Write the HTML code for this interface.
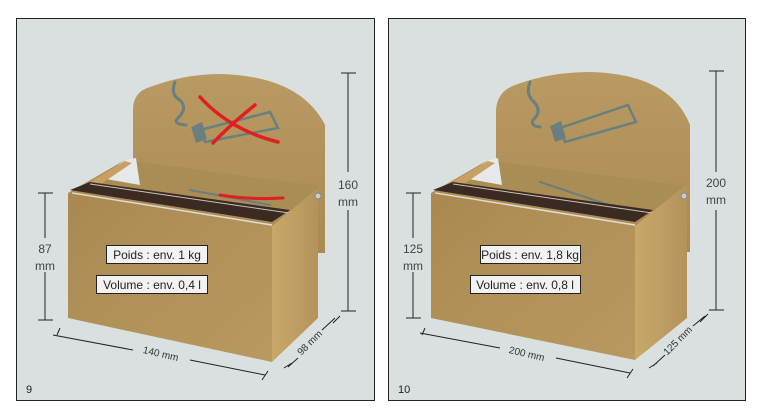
<!DOCTYPE html>
<html><head><meta charset="utf-8"><style>
html,body{margin:0;padding:0;background:#fff;}
svg{display:block;font-family:"Liberation Sans",sans-serif;}
</style></head><body>
<svg width="759" height="409" viewBox="0 0 759 409" xmlns="http://www.w3.org/2000/svg">
<defs>
<linearGradient id="fr" x1="0" y1="0" x2="1" y2="1"><stop offset="0" stop-color="#a9894f"/><stop offset="1" stop-color="#b89a60"/></linearGradient>
<linearGradient id="sd" x1="0" y1="0" x2="1" y2="0"><stop offset="0" stop-color="#c9a96a"/><stop offset="1" stop-color="#b3935a"/></linearGradient>
<linearGradient id="bp" x1="0" y1="0" x2="0" y2="1"><stop offset="0" stop-color="#b89a62"/><stop offset="1" stop-color="#a88a52"/></linearGradient>
</defs>
<rect width="759" height="409" fill="#fff"/>
<rect x="16.5" y="18.5" width="358" height="382" fill="#dadfe0" stroke="#222" stroke-width="1"/>
<rect x="388.5" y="18.5" width="357" height="382" fill="#dadfe0" stroke="#222" stroke-width="1"/>

<!-- LEFT DRAWING -->
<path d="M133,110 Q133,92 150,87 Q185,74 220,74 Q300,76 325,125 L325,253 L316,253 L316,200 L133,200 Z" fill="url(#bp)"/>
<path d="M68,193 L125,160 L318,186 L318,200 L272,226 Z" fill="#aa8c55"/>
<g fill="none" stroke="#6a7f80" stroke-width="3" stroke-linecap="round">
<path d="M175,82 Q170,95 180,100 Q188,108 178,118 Q172,124 186,125"/>
<path d="M200,130 L270,112 L278,128 L205,142 Z" stroke-width="2.5"/>
<path d="M193,128 l8,-4 l4,14 l-8,3z" fill="#6a7f80"/>
<path d="M190,190 L270,205" stroke-width="2"/>
</g>
<g stroke="#e02020" stroke-width="3.5" fill="none" stroke-linecap="round"><path d="M200,97 Q230,130 278,142"/><path d="M255,105 Q230,125 213,143"/><path d="M220,195 Q250,200 283,198" stroke-width="3"/></g>
<path d="M100,178 L125,160 L136,158 L140,185 Z" fill="#e6e8ea"/>
<path d="M80,188 L125,161 L132,163 L92,190 Z" fill="#c9a064"/>
<path d="M70,190 L272,222 L290,210 L90,182 Z" fill="#3a2a22"/>
<path d="M90,184 L289,213" stroke="#c9c3b8" stroke-width="1"/>
<path d="M72,193 L272,225" stroke="#e0dcd4" stroke-width="1.5"/>
<path d="M272,226 L318,188 L318,318 L272,362 Z" fill="url(#sd)"/>
<path d="M68,193 L272,226 L272,362 L68,318 Z" fill="url(#fr)"/>
<circle cx="318" cy="196" r="3" fill="#ccc" stroke="#888"/>
<rect x="106.5" y="245.5" width="101" height="18" fill="#f2f2f2" stroke="#222"/>
<text x="157" y="259" font-size="12" text-anchor="middle" fill="#222">Poids : env. 1 kg</text>
<rect x="96.5" y="275.5" width="111" height="18" fill="#f2f2f2" stroke="#222"/>
<text x="152" y="289" font-size="12" text-anchor="middle" fill="#222">Volume : env. 0,4 l</text>
<g stroke="#222" stroke-width="1" fill="none">
<path d="M38,193H53M45,193V238M45,272V320M38,320H53"/>
<path d="M341,73H356M348,73V172M348,210V311M341,311H356"/>
<path d="M57,335L60,328M53,335L133,350M190,360L265,375M262,380L268,371"/>
<path d="M284,368L292,363M288,367L298,358M322,330L335,318M333,323L340,316"/>
</g>
<text x="45" y="253" font-size="12" text-anchor="middle" fill="#444">87</text>
<text x="45" y="270" font-size="12" text-anchor="middle" fill="#444">mm</text>
<text x="348" y="189" font-size="12" text-anchor="middle" fill="#444">160</text>
<text x="348" y="206" font-size="12" text-anchor="middle" fill="#444">mm</text>
<text transform="translate(160,357) rotate(13)" font-size="10" text-anchor="middle" fill="#333">140 mm</text>
<text transform="translate(312,345) rotate(-45)" font-size="10" text-anchor="middle" fill="#333">98 mm</text>
<text x="26" y="393" font-size="11" fill="#222">9</text>

<!-- RIGHT DRAWING -->
<path d="M496,112 Q496,92 515,85 Q550,72 590,72 Q670,74 690,125 L690,252 L687,252 L687,200 L496,200 Z" fill="url(#bp)"/>
<path d="M431,193 L488,160 L687,186 L687,200 L635,226 Z" fill="#aa8c55"/>
<g fill="none" stroke="#6a7f80" stroke-width="3" stroke-linecap="round">
<path d="M530,82 Q525,95 535,103 Q542,112 533,120 Q530,126 540,127"/>
<path d="M560,128 L628,105 L636,122 L565,142 Z" stroke-width="2.5"/>
<path d="M552,127 l8,-4 l4,14 l-8,3z" fill="#6a7f80"/>
<path d="M540,182 L630,212" stroke-width="2"/>
</g>
<path d="M463,178 L488,160 L498,158 L502,185 Z" fill="#e6e8ea"/>
<path d="M443,187 L488,161 L495,163 L455,190 Z" fill="#c9a064"/>
<path d="M433,190 L635,222 L653,210 L453,182 Z" fill="#3a2a22"/>
<path d="M453,184 L652,213" stroke="#c9c3b8" stroke-width="1"/>
<path d="M435,193 L635,225" stroke="#e0dcd4" stroke-width="1.5"/>
<path d="M635,226 L687,184 L687,318 L635,360 Z" fill="url(#sd)"/>
<path d="M431,193 L635,226 L635,360 L431,318 Z" fill="url(#fr)"/>
<circle cx="684" cy="196" r="3" fill="#ccc" stroke="#888"/>
<rect x="480.5" y="245.5" width="100" height="18" fill="#f2f2f2" stroke="#222"/>
<text x="530" y="259" font-size="12" text-anchor="middle" fill="#222">Poids : env. 1,8 kg</text>
<rect x="470.5" y="275.5" width="110" height="18" fill="#f2f2f2" stroke="#222"/>
<text x="525" y="289" font-size="12" text-anchor="middle" fill="#222">Volume : env. 0,8 l</text>
<g stroke="#222" stroke-width="1" fill="none">
<path d="M406,193H421M413,193V238M413,272V318M406,318H421"/>
<path d="M709,71H724M716,71V172M716,210V310M709,310H724"/>
<path d="M422,335L425,328M420,333L500,348M556,358L630,373M627,378L633,369"/>
<path d="M649,368L657,363M653,366L665,355M693,326L705,316M700,322L708,314"/>
</g>
<text x="413" y="253" font-size="12" text-anchor="middle" fill="#444">125</text>
<text x="413" y="270" font-size="12" text-anchor="middle" fill="#444">mm</text>
<text x="716" y="187" font-size="12" text-anchor="middle" fill="#444">200</text>
<text x="716" y="204" font-size="12" text-anchor="middle" fill="#444">mm</text>
<text transform="translate(526,357) rotate(13)" font-size="10" text-anchor="middle" fill="#333">200 mm</text>
<text transform="translate(680,343) rotate(-45)" font-size="10" text-anchor="middle" fill="#333">125 mm</text>
<text x="398" y="393" font-size="11" fill="#222">10</text>
</svg>
</body></html>
